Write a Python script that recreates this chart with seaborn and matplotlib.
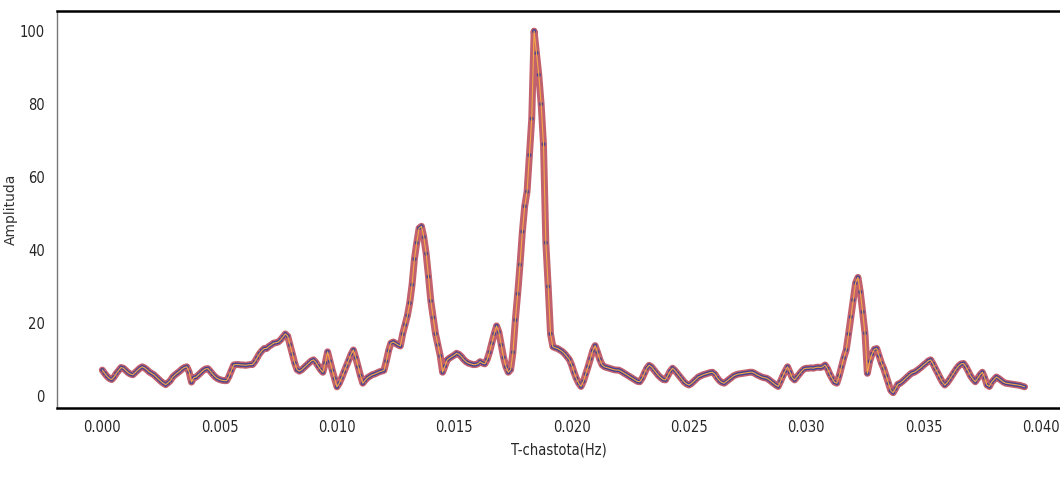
import numpy as np
import pandas as pd
import matplotlib
matplotlib.use("Agg")
import matplotlib.pyplot as plt
import seaborn as sns

# Amplitude spectrum, one value every 0.0001 Hz (0.0000 .. 0.0393)
amplitude = [
    7.1, 6.2, 5.4, 4.8, 4.5, 5.2, 6.2, 7.0, 7.8, 7.6,
    7.0, 6.4, 6.0, 5.8, 6.4, 7.0, 7.6, 8.0, 7.7, 7.2,
    6.6, 6.2, 5.8, 5.2, 4.6, 4.0, 3.5, 3.1, 3.6, 4.2,
    5.2, 5.8, 6.3, 6.8, 7.4, 7.8, 8.0, 6.6, 3.8, 5.0,
    5.2, 5.8, 6.4, 7.0, 7.4, 7.5, 6.8, 6.0, 5.3, 4.8,
    4.5, 4.3, 4.2, 4.2, 5.4, 7.0, 8.5, 8.6, 8.6, 8.5,
    8.5, 8.4, 8.5, 8.6, 8.6, 9.4, 10.5, 11.6, 12.4, 13.0,
    13.0, 13.6, 14.0, 14.5, 14.6, 14.8, 15.4, 16.2, 17.0, 16.4,
    14.0, 11.5, 9.0, 7.2, 6.8, 7.2, 7.8, 8.4, 9.0, 9.6,
    9.9, 9.2, 8.2, 7.2, 6.5, 9.0, 12.1, 9.5, 7.0, 4.8,
    2.5, 3.5, 5.0, 6.6, 8.2, 9.8, 11.4, 12.6, 10.5, 8.0,
    5.6, 3.5, 4.3, 5.0, 5.4, 5.8, 6.0, 6.3, 6.6, 6.8,
    7.0, 9.5, 12.4, 14.5, 14.8, 14.4, 14.0, 13.7, 17.0, 19.5,
    22.0, 25.5, 30.5, 37.5, 42.0, 46.0, 46.5, 43.5, 39.0, 32.7,
    26.0, 21.5, 17.0, 14.0, 11.0, 6.5, 8.2, 9.9, 10.4, 10.8,
    11.2, 11.7, 11.4, 10.8, 10.0, 9.4, 9.0, 8.8, 8.6, 8.6,
    8.8, 9.4, 9.0, 8.8, 10.0, 12.0, 14.5, 17.0, 19.2, 17.5,
    14.0, 10.5, 8.0, 6.5, 7.2, 12.0, 20.8, 28.0, 36.0, 45.0,
    52.0, 56.0, 66.0, 76.0, 100.0, 94.0, 88.0, 80.0, 69.0, 42.0,
    30.0, 17.0, 13.5, 13.2, 13.0, 12.6, 12.2, 11.6, 10.8, 10.0,
    8.5, 6.5, 4.8, 3.5, 2.6, 4.0, 6.0, 8.0, 10.2, 12.4,
    13.8, 12.0, 10.0, 8.5, 8.0, 7.8, 7.6, 7.4, 7.2, 7.1,
    7.1, 6.8, 6.4, 6.0, 5.6, 5.2, 4.8, 4.4, 4.0, 3.9,
    4.8, 6.2, 7.6, 8.4, 8.0, 7.2, 6.4, 5.6, 5.0, 4.5,
    4.4, 5.6, 6.8, 7.6, 7.0, 6.2, 5.4, 4.6, 3.8, 3.3,
    3.0, 3.4, 4.0, 4.6, 5.2, 5.5, 5.8, 6.0, 6.2, 6.4,
    6.5, 6.0, 5.0, 4.2, 3.7, 3.5, 4.0, 4.5, 5.0, 5.5,
    5.8, 6.0, 6.1, 6.2, 6.3, 6.4, 6.5, 6.5, 6.2, 5.8,
    5.5, 5.2, 5.0, 4.9, 4.5, 4.0, 3.5, 3.0, 2.6, 4.0,
    5.5, 6.8, 8.0, 6.5, 5.0, 4.4, 5.2, 6.0, 6.8, 7.4,
    7.6, 7.6, 7.7, 7.6, 7.8, 7.9, 7.8, 8.0, 8.5, 7.5,
    6.0, 4.8, 3.8, 3.5, 5.5, 8.0, 10.5, 12.6, 17.0, 21.7,
    26.3, 31.0, 32.5, 28.5, 23.0, 17.2, 6.2, 9.5, 11.5, 12.8,
    13.0, 11.0, 9.0, 7.5, 5.5, 3.5, 1.5, 0.9, 2.0, 3.2,
    3.5, 4.0, 4.6, 5.2, 5.8, 6.3, 6.5, 6.9, 7.4, 7.9,
    8.5, 9.0, 9.6, 9.9, 8.8, 7.5, 6.3, 5.0, 3.8, 3.0,
    3.6, 4.5, 5.5, 6.5, 7.5, 8.3, 8.8, 8.9, 8.0, 6.8,
    5.5, 4.6, 3.9, 4.8, 5.8, 6.5, 5.0, 3.0, 2.6, 3.8,
    4.5, 5.2, 4.8, 4.3, 3.8, 3.5, 3.4, 3.3, 3.2, 3.1,
    3.0, 2.9, 2.7, 2.5,
]
freq_step = 0.0001
freqs = np.round(np.arange(len(amplitude)) * freq_step, 4)

x_ticks = [0.000, 0.005, 0.010, 0.015, 0.020, 0.025, 0.030, 0.035, 0.040]
y_ticks = [0, 20, 40, 60, 80, 100]

df = pd.DataFrame({"freq": freqs, "amp": amplitude})

sns.set_style("white")
tick_font = dict(family="DejaVu Sans", stretch="condensed", fontsize=10.5)

fig = plt.figure(figsize=(10.6, 4.8), dpi=100)
ax = fig.add_axes([0.054, 0.15, 0.946, 0.827])

# red band of points, blue dots, orange line on top
sns.lineplot(data=df, x="freq", y="amp", ax=ax, color="#b2394a", lw=5, alpha=0.8)
sns.scatterplot(data=df, x="freq", y="amp", ax=ax, color="#2c3c98", s=9,
                edgecolor="none", alpha=0.75, zorder=3)
sns.lineplot(data=df, x="freq", y="amp", ax=ax, color="#f5a848", lw=0.8, zorder=4)

ax.set_xlim(-0.00192, 0.04081)
ax.set_ylim(-3.3, 105.5)
ax.set_xticks(x_ticks)
ax.set_xticklabels([f"{t:.3f}" for t in x_ticks], **tick_font)
ax.set_yticks(y_ticks)
ax.set_yticklabels([str(t) for t in y_ticks], **tick_font)
ax.tick_params(axis="both", direction="out", length=4, width=0.8, color="#555555", pad=5)

ax.set_xlabel("T-chastota(Hz)", labelpad=5, **tick_font)
ax.set_ylabel("Amplituda", fontsize=10, color="#333333")
ax.yaxis.set_label_coords(-0.039, 0.5)

for side in ["top", "bottom"]:
    ax.spines[side].set_color("black")
    ax.spines[side].set_linewidth(1.8)
ax.spines["left"].set_color("#777777")
ax.spines["left"].set_linewidth(1.0)
ax.spines["right"].set_visible(False)

fig.savefig("out.png", dpi=100)
